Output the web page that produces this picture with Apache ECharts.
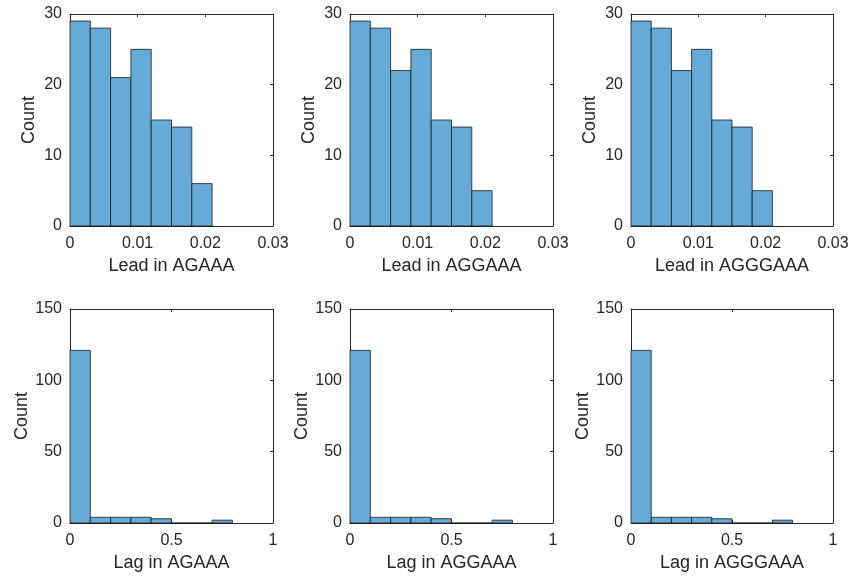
<!DOCTYPE html>
<html>
<head>
<meta charset="utf-8">
<script src="https://cdn.jsdelivr.net/npm/echarts@6/dist/echarts.min.js"></script>
<style>html,body{margin:0;padding:0;background:#fff;}#c{width:852px;height:580px;}</style>
</head>
<body>
<div id="c"></div>
<script>
// Histogram bin edges
const leadBinEdges = [0, 0.003, 0.006, 0.009, 0.012, 0.015, 0.018, 0.021];
const lagBinEdges = [0, 0.1, 0.2, 0.3, 0.4, 0.5, 0.6, 0.7, 0.8];
// Counts
const leadAGAAA = [29, 28, 21, 25, 15, 14, 6];
const leadAGGAAA = [29, 28, 22, 25, 15, 14, 5];
const leadAGGGAAA = [29, 28, 22, 25, 15, 14, 5];
const lagAGAAA = [121, 4, 4, 4, 3, 0, 0, 2];
const lagAGGAAA = [121, 4, 4, 4, 3, 0, 0, 2];
const lagAGGGAAA = [121, 4, 4, 4, 3, 0, 0, 2];
// Axis labels
const xNames = ['Lead in AGAAA', 'Lead in AGGAAA', 'Lead in AGGGAAA', 'Lag in AGAAA', 'Lag in AGGAAA', 'Lag in AGGGAAA'];
const yName = 'Count';
const leadXTicks = {min: 0, max: 0.03, interval: 0.01};
const leadYTicks = {min: 0, max: 30, interval: 10};
const lagXTicks = {min: 0, max: 1, interval: 0.5};
const lagYTicks = {min: 0, max: 150, interval: 50};

const panels = [
  {edges: leadBinEdges, counts: leadAGAAA, xt: leadXTicks, yt: leadYTicks},
  {edges: leadBinEdges, counts: leadAGGAAA, xt: leadXTicks, yt: leadYTicks},
  {edges: leadBinEdges, counts: leadAGGGAAA, xt: leadXTicks, yt: leadYTicks},
  {edges: lagBinEdges, counts: lagAGAAA, xt: lagXTicks, yt: lagYTicks},
  {edges: lagBinEdges, counts: lagAGGAAA, xt: lagXTicks, yt: lagYTicks},
  {edges: lagBinEdges, counts: lagAGGGAAA, xt: lagXTicks, yt: lagYTicks}
];

const gridPos = [
  {left: 70, top: 14, width: 203, height: 212},
  {left: 350, top: 14, width: 203, height: 212},
  {left: 631, top: 14, width: 202, height: 212},
  {left: 70, top: 309, width: 203, height: 214},
  {left: 350, top: 309, width: 203, height: 214},
  {left: 631, top: 309, width: 202, height: 214}
];

const txt = '#262626';
const font = 'Liberation Sans, Arial, Helvetica, sans-serif';
const lineStyle = {color: txt, width: 1};

const grid = [], xAxis = [], yAxis = [], series = [];
panels.forEach((p, i) => {
  grid.push(Object.assign({containLabel: false}, gridPos[i]));
  const xi = xAxis.length, yi = yAxis.length;
  xAxis.push({
    type: 'value', gridIndex: i, position: 'bottom', min: p.xt.min, max: p.xt.max, interval: p.xt.interval,
    name: xNames[i], nameLocation: 'middle', nameGap: 31,
    nameTextStyle: {color: txt, fontSize: 18, fontFamily: font},
    axisLine: {show: true, onZero: false, lineStyle: lineStyle},
    axisTick: {show: true, inside: true, length: 3, lineStyle: lineStyle},
    axisLabel: {color: txt, fontSize: 16, fontFamily: font, margin: 10},
    splitLine: {show: false}
  });
  xAxis.push({
    type: 'value', gridIndex: i, position: 'top', min: p.xt.min, max: p.xt.max, interval: p.xt.interval,
    axisLine: {show: true, onZero: false, lineStyle: lineStyle},
    axisTick: {show: true, inside: true, length: 3, lineStyle: lineStyle},
    axisLabel: {show: false}, splitLine: {show: false}
  });
  yAxis.push({
    type: 'value', gridIndex: i, position: 'left', min: p.yt.min, max: p.yt.max, interval: p.yt.interval,
    name: yName, nameLocation: 'middle', nameGap: 32, nameRotate: 90,
    nameTextStyle: {color: txt, fontSize: 18, fontFamily: font},
    axisLine: {show: true, onZero: false, lineStyle: lineStyle},
    axisTick: {show: true, inside: true, length: 3, lineStyle: lineStyle},
    axisLabel: {color: txt, fontSize: 16, fontFamily: font, margin: 8},
    splitLine: {show: false}
  });
  yAxis.push({
    type: 'value', gridIndex: i, position: 'right', min: p.yt.min, max: p.yt.max, interval: p.yt.interval,
    axisLine: {show: true, onZero: false, lineStyle: lineStyle},
    axisTick: {show: true, inside: true, length: 3, lineStyle: lineStyle},
    axisLabel: {show: false}, splitLine: {show: false}
  });
  const data = p.counts.map((c, k) => [p.edges[k], p.edges[k + 1], c]);
  series.push({
    type: 'custom', xAxisIndex: xi, yAxisIndex: yi,
    data: data,
    encode: {x: [0, 1], y: 2},
    renderItem: function (params, api) {
      const a = api.coord([api.value(0), api.value(2)]);
      const b = api.coord([api.value(1), 0]);
      return {
        type: 'rect',
        shape: {x: a[0], y: a[1], width: b[0] - a[0], height: b[1] - a[1]},
        style: {fill: '#66aad7', stroke: '#1a1a1a', lineWidth: 0.8}
      };
    },
    z: 1
  });
});

const chart = echarts.init(document.getElementById('c'), null, {renderer: 'canvas'});
chart.setOption({animation: false, backgroundColor: '#fff', grid, xAxis, yAxis, series});
</script>
</body>
</html>
